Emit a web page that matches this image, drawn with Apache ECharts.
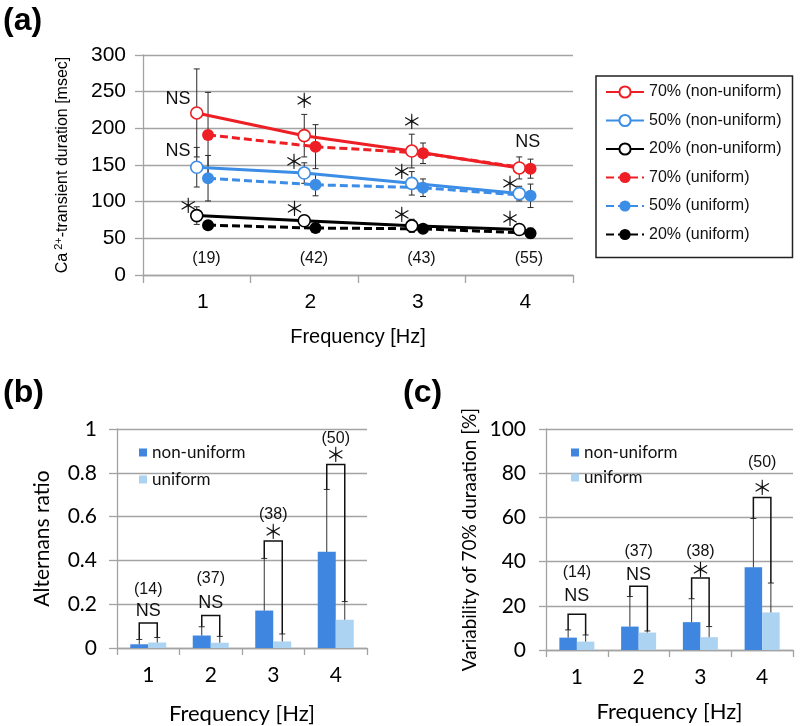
<!DOCTYPE html>
<html><head><meta charset="utf-8">
<script src="https://cdn.jsdelivr.net/npm/echarts@6/dist/echarts.min.js"></script>
<style>html,body{margin:0;padding:0;background:#fff}#c{width:800px;height:726px}</style>
</head><body><div id="c"></div>
<script>
// ---------- data ----------
const freqLabels = ['1', '2', '3', '4'];
const freqs = [1, 2, 3, 4];

// panel (a): Ca2+-transient duration [msec]
const nu70 = [221, 190, 169, 146], nu70Err = [60, 29, 23, 15];
const nu50 = [147, 139, 125, 111], nu50Err = [27, 14, 16, 10];
const nu20 = [81, 74, 67, 62],     nu20Err = [12, 6, 9, 6];
const u70  = [191, 175, 166, 145], u70Err  = [58, 30, 14, 13];
const u50  = [132, 123, 119, 108], u50Err  = [31, 15, 12, 16];
const u20  = [68, 64, 63, 57],     u20Err  = [5, 4, 5, 7];
const nCountsA = ['(19)', '(42)', '(43)', '(55)'];
const nCountsAY = 23;
const sigAText = ['NS', 'NS', '＊', '＊', '＊', '＊', '＊', '＊', '＊', 'NS', '＊', '＊'];
const sigAX    = [0.826, 0.826, 0.92, 2.0, 1.905, 1.91, 3.0, 2.907, 2.907, 4.08, 3.914, 3.914];
const sigAY    = [239.6, 169.5, 94.5, 237.7, 154.5, 91, 210, 141, 82.7, 181.8, 125, 77.3];

// panel (b): Alternans ratio
const bNU = [0.017, 0.057, 0.171, 0.439], bNUErr = [0.022, 0.040, 0.238, 0.285];
const bU  = [0.025, 0.024, 0.030, 0.129], bUErr  = [0.023, 0.029, 0.034, 0.083];
const bBracket = [0.114, 0.148, 0.489, 0.838];
const bSig = ['NS', 'NS', '＊', '＊'], bSigY = [0.168, 0.205, 0.534, 0.883];
const bN = ['(14)', '(37)', '(38)', '(50)'], bNY = [0.265, 0.315, 0.61, 0.955];

// panel (c): Variability of 70% duration [%]
const cNU = [5.6, 10.6, 12.6, 37.4], cNUErr = [3.5, 13.6, 10.6, 22.1];
const cU  = [3.8, 7.9, 5.8, 17.0],   cUErr  = [3.0, 0.7, 4.8, 13.3];
const cBracket = [16.2, 28.8, 32.6, 69];
const cSig = ['NS', 'NS', '＊', '＊'], cSigY = [24.5, 34, 36.4, 73.5];
const cN = ['(14)', '(37)', '(38)', '(50)'], cNY = [35.1, 44.7, 44.7, 84.9];

// ---------- style ----------
const FA = '"Liberation Sans", Arial, sans-serif';
const FB = 'Lato, "Liberation Sans", sans-serif';
const FS = '"Noto Sans CJK JP", sans-serif';
const RED = '#ee1f24', BLUE = '#3c8de6', BLACK = '#000';
const NUBAR = '#3e86df', UBAR = '#acd3f1';
const GRID = '#a3a3a3';
const uShift = 0.105;

function fontFor(t) { return t === '＊' ? FS : FA; }
function sizeFor(t, base) { return t === '＊' ? base + 2 : base; }

const chart = echarts.init(document.getElementById('c'), null, {renderer: 'canvas'});

function lineSeries(name, vals, shift, color, hollow, dashed) {
  return {
    type: 'line', name, xAxisIndex: 1, yAxisIndex: 0,
    data: freqs.map((f, i) => [f + shift, vals[i]]),
    symbol: 'circle', symbolSize: 12, showSymbol: true,
    itemStyle: hollow ? {color: '#fff', borderColor: color, borderWidth: 1.6} : {color: color, borderWidth: 0},
    lineStyle: {color: color, width: 3, type: dashed ? [8, 4] : 'solid'},
    z: 4, animation: false, silent: true
  };
}
function errSeries(vals, errs, shift) {
  return {
    type: 'custom', xAxisIndex: 1, yAxisIndex: 0, z: 2, silent: true, animation: false,
    data: freqs.map((f, i) => [f + shift, vals[i], errs[i]]),
    renderItem: function (params, api) {
      const x = api.value(0), v = api.value(1), e = api.value(2);
      const t = api.coord([x, v + e]), b = api.coord([x, v - e]);
      const st = {stroke: '#2a2a2a', lineWidth: 1};
      return {type: 'group', children: [
        {type: 'line', shape: {x1: t[0], y1: t[1], x2: b[0], y2: b[1]}, style: st},
        {type: 'line', shape: {x1: t[0] - 3, y1: t[1], x2: t[0] + 3, y2: t[1]}, style: st},
        {type: 'line', shape: {x1: b[0] - 3, y1: b[1], x2: b[0] + 3, y2: b[1]}, style: st}
      ]};
    }
  };
}
function textSeries(xs, ys, texts, base, xAxisIndex, yAxisIndex) {
  return {
    type: 'custom', xAxisIndex, yAxisIndex, z: 6, silent: true, animation: false,
    data: xs.map((x, i) => [x, ys[i]]),
    renderItem: function (params, api) {
      const p = api.coord([api.value(0), api.value(1)]);
      const t = texts[params.dataIndex];
      return {type: 'text', x: p[0], y: p[1], style: {text: t, fontFamily: fontFor(t), fontSize: sizeFor(t, base),
        fill: '#111', align: 'center', verticalAlign: 'middle'}};
    }
  };
}
function barAnnotSeries(nuV, nuE, uV, uE, br, sig, sigY, nT, nY, bw, xAxisIndex, yAxisIndex) {
  return {
    type: 'custom', xAxisIndex, yAxisIndex, z: 6, silent: true, animation: false,
    data: freqLabels.map((f, i) => [i, br[i]]),
    renderItem: function (params, api) {
      const i = params.dataIndex;
      const cx = api.coord([i, 0])[0];
      const Y = v => api.coord([i, v])[1];
      const xl = cx - bw / 2, xr = cx + bw / 2;
      const ch = [];
      const est = {stroke: '#333', lineWidth: 1};
      [[xl, nuV[i], nuE[i]], [xr, uV[i], uE[i]]].forEach(function (a) {
        const x = a[0], y0 = Y(a[1]), y1 = Y(a[1] + a[2]);
        ch.push({type: 'line', shape: {x1: x, y1: y0, x2: x, y2: y1}, style: est});
        ch.push({type: 'line', shape: {x1: x - 3, y1: y1, x2: x + 3, y2: y1}, style: est});
      });
      ch.push({type: 'polyline', shape: {points: [[xl, Y(nuV[i] + nuE[i])], [xl, Y(br[i])], [xr, Y(br[i])], [xr, Y(uV[i] + uE[i])]]},
        style: {stroke: '#111', lineWidth: 1.5, fill: null}});
      const s = sig[i];
      ch.push({type: 'text', x: cx, y: Y(sigY[i]), style: {text: s, fontFamily: fontFor(s), fontSize: sizeFor(s, 18), fill: '#111', align: 'center', verticalAlign: 'middle'}});
      ch.push({type: 'text', x: cx, y: Y(nY[i]), style: {text: nT[i], fontFamily: FA, fontSize: 16, fill: '#111', align: 'center', verticalAlign: 'middle'}});
      return {type: 'group', children: ch};
    }
  };
}

const axisLineStyle = {show: true, lineStyle: {color: GRID, width: 1.3}};
const splitLineStyle = {show: true, lineStyle: {color: GRID, width: 1.3}};

const option = {
  animation: false,
  backgroundColor: '#fff',
  title: [
    {text: '(a)', left: -2, top: 0, textStyle: {fontFamily: FA, fontSize: 32, fontWeight: 'bold', color: '#000'}},
    {text: '(b)', left: -2, top: 372, textStyle: {fontFamily: FA, fontSize: 32, fontWeight: 'bold', color: '#000'}},
    {text: '(c)', left: 398, top: 372, textStyle: {fontFamily: FA, fontSize: 32, fontWeight: 'bold', color: '#000'}}
  ],
  grid: [
    {left: 143, top: 55, width: 430, height: 220},
    {left: 117, top: 429, width: 250, height: 220},
    {left: 546, top: 429, width: 247, height: 221}
  ],
  legend: [
    {
      data: ['70% (non-uniform)', '50% (non-uniform)', '20% (non-uniform)', '70% (uniform)', '50% (uniform)', '20% (uniform)'],
      orient: 'vertical', left: 596, top: 76, padding: [8, 11, 15, 9],
      itemWidth: 38, itemHeight: 14, itemGap: 12.5,
      borderColor: '#222', borderWidth: 1.5,
      textStyle: {fontFamily: FA, fontSize: 16, color: '#111'},
      selectedMode: false
    },
    {
      data: ['non-uniform', 'uniform'], orient: 'vertical', left: 139, top: 444, padding: 0,
      itemWidth: 8, itemHeight: 8, itemGap: 10, icon: 'rect',
      textStyle: {fontFamily: FB, fontSize: 17, color: '#111'}, selectedMode: false
    },
    {
      data: ['non-uniform', 'uniform'], orient: 'vertical', left: 571, top: 444, padding: 0,
      itemWidth: 8, itemHeight: 8, itemGap: 8, icon: 'rect',
      textStyle: {fontFamily: FB, fontSize: 17, color: '#111'}, selectedMode: false
    }
  ],
  xAxis: [
    {
      type: 'category', gridIndex: 0, data: freqLabels, boundaryGap: true,
      axisLine: axisLineStyle, axisTick: {show: true, length: 8, lineStyle: {color: GRID, width: 1.3}},
      axisLabel: {fontFamily: FA, fontSize: 21, color: '#000', margin: 17, padding: [0, 0, 0, 12]},
      name: 'Frequency [Hz]', nameLocation: 'middle', nameGap: 52,
      nameTextStyle: {fontFamily: FA, fontSize: 20, color: '#000'}
    },
    {type: 'value', gridIndex: 0, min: 0.5, max: 4.5, show: false},
    {
      type: 'category', gridIndex: 1, data: freqLabels, boundaryGap: true,
      axisLine: axisLineStyle, axisTick: {show: true, length: 7, lineStyle: {color: GRID, width: 1.3}},
      axisLabel: {fontFamily: FB, fontSize: 21, color: '#000', margin: 17},
      name: 'Frequency [Hz]', nameLocation: 'middle', nameGap: 55,
      nameTextStyle: {fontFamily: FB, fontSize: 22, color: '#000'}
    },
    {
      type: 'category', gridIndex: 2, data: freqLabels, boundaryGap: true,
      axisLine: axisLineStyle, axisTick: {show: true, length: 7, lineStyle: {color: GRID, width: 1.3}},
      axisLabel: {fontFamily: FB, fontSize: 21, color: '#000', margin: 17},
      name: 'Frequency [Hz]', nameLocation: 'middle', nameGap: 51,
      nameTextStyle: {fontFamily: FB, fontSize: 22, color: '#000'}
    }
  ],
  yAxis: [
    {
      type: 'value', gridIndex: 0, min: 0, max: 300, interval: 50,
      axisLine: axisLineStyle, axisTick: {show: true, length: 8, lineStyle: {color: GRID, width: 1.3}},
      splitLine: splitLineStyle,
      axisLabel: {fontFamily: FA, fontSize: 21, color: '#000', margin: 17},
      name: '{n|Ca}{s| 2+}{n|-transient duration [msec]}', nameLocation: 'middle', nameGap: 71,
      nameTextStyle: {fontFamily: FA, fontSize: 16, color: '#000',
        rich: {n: {fontFamily: FA, fontSize: 16, color: '#000', lineHeight: 19},
               s: {fontFamily: FA, fontSize: 11, color: '#000', lineHeight: 11, verticalAlign: 'top'}}}
    },
    {
      type: 'value', gridIndex: 1, min: 0, max: 1, interval: 0.2,
      axisLine: axisLineStyle, axisTick: {show: true, length: 8, lineStyle: {color: GRID, width: 1.3}},
      splitLine: splitLineStyle,
      axisLabel: {fontFamily: FB, fontSize: 21, color: '#000', margin: 20},
      name: 'Alternans ratio', nameLocation: 'middle', nameGap: 64,
      nameTextStyle: {fontFamily: FB, fontSize: 21, color: '#000'}
    },
    {
      type: 'value', gridIndex: 2, min: 0, max: 100, interval: 20,
      axisLine: axisLineStyle, axisTick: {show: true, length: 7, lineStyle: {color: GRID, width: 1.3}},
      splitLine: splitLineStyle,
      axisLabel: {fontFamily: FB, fontSize: 21, color: '#000', margin: 20},
      name: 'Variability of 70% duraation [%]', nameLocation: 'middle', nameGap: 67,
      nameTextStyle: {fontFamily: FB, fontSize: 19, color: '#000'}
    }
  ],
  series: [
    errSeries(nu70, nu70Err, 0), errSeries(nu50, nu50Err, 0), errSeries(nu20, nu20Err, 0),
    errSeries(u70, u70Err, uShift), errSeries(u50, u50Err, uShift), errSeries(u20, u20Err, uShift),
    lineSeries('70% (non-uniform)', nu70, 0, RED, true, false),
    lineSeries('50% (non-uniform)', nu50, 0, BLUE, true, false),
    lineSeries('20% (non-uniform)', nu20, 0, BLACK, true, false),
    lineSeries('70% (uniform)', u70, uShift, RED, false, true),
    lineSeries('50% (uniform)', u50, uShift, BLUE, false, true),
    lineSeries('20% (uniform)', u20, uShift, BLACK, false, true),
    textSeries(freqs.map(f => f + 0.09), freqs.map(() => nCountsAY), nCountsA, 16, 1, 0),
    textSeries(sigAX, sigAY, sigAText, 18, 1, 0),

    {type: 'bar', name: 'non-uniform', xAxisIndex: 2, yAxisIndex: 1, data: bNU, barWidth: 18, barGap: '0%', itemStyle: {color: NUBAR}, silent: true},
    {type: 'bar', name: 'uniform', xAxisIndex: 2, yAxisIndex: 1, data: bU, barWidth: 18, barGap: '0%', itemStyle: {color: UBAR}, silent: true},
    barAnnotSeries(bNU, bNUErr, bU, bUErr, bBracket, bSig, bSigY, bN, bNY, 18, 2, 1),

    {type: 'bar', name: 'non-uniform', xAxisIndex: 3, yAxisIndex: 2, data: cNU, barWidth: 17.5, barGap: '0%', itemStyle: {color: NUBAR}, silent: true},
    {type: 'bar', name: 'uniform', xAxisIndex: 3, yAxisIndex: 2, data: cU, barWidth: 17.5, barGap: '0%', itemStyle: {color: UBAR}, silent: true},
    barAnnotSeries(cNU, cNUErr, cU, cUErr, cBracket, cSig, cSigY, cN, cNY, 17.5, 3, 2)
  ]
};
chart.setOption(option);
</script>
</body></html>
